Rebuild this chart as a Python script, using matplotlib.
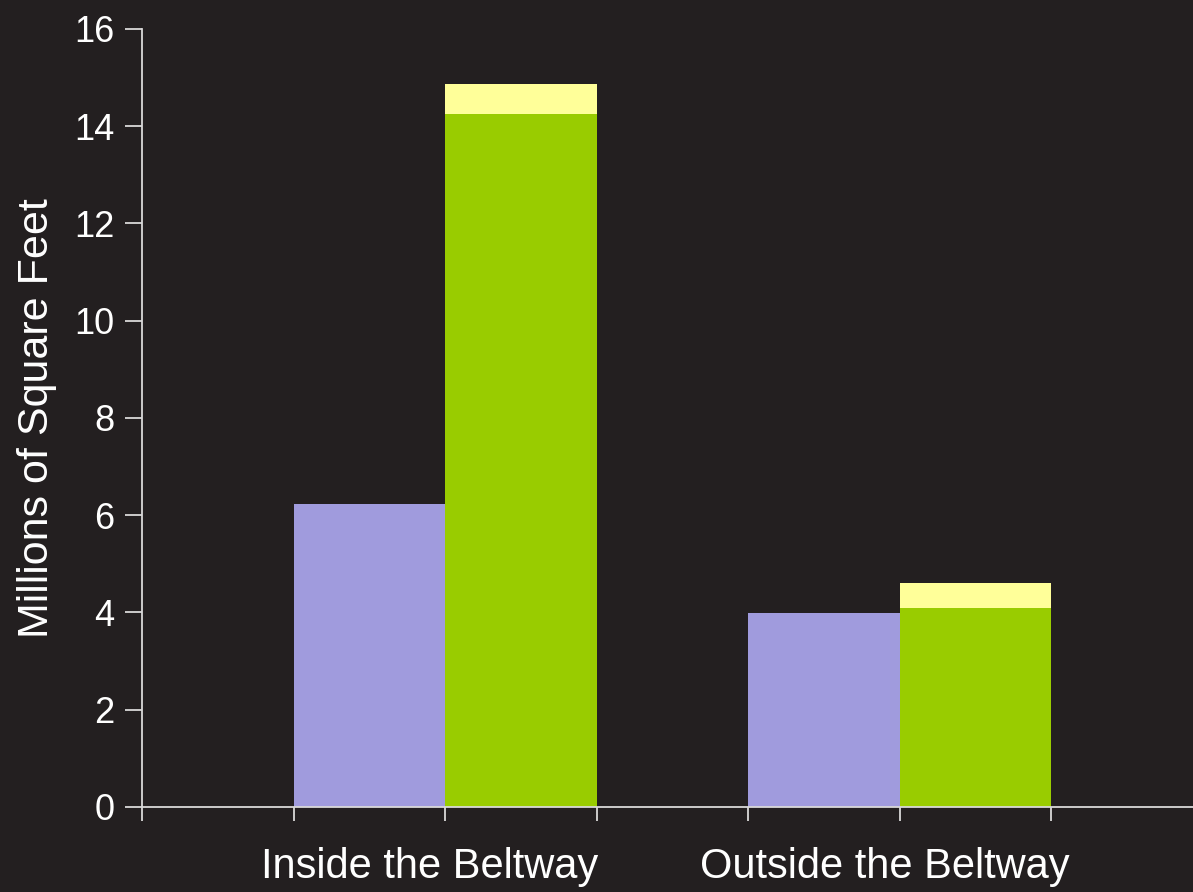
import matplotlib.pyplot as plt
import numpy as np

plt.rcParams['font.family'] = ['Liberation Sans', 'DejaVu Sans']

categories = ['Inside the Beltway', 'Outside the Beltway']
purple_vals = [6.23, 3.99]
green_vals = [14.25, 4.10]
yellow_vals = [0.62, 0.51]

bg = '#231f20'
fg = '#d9d9d9'

fig = plt.figure(figsize=(11.93, 8.92), dpi=100, facecolor=bg)
ax = fig.add_axes([0.119, 0.0953, 0.881, 0.8722], facecolor=bg)

x_purple = np.array([1, 4])
x_green = x_purple + 1
ax.bar(x_purple, purple_vals, width=1, align='edge', color='#a09bdd')
ax.bar(x_green, green_vals, width=1, align='edge', color='#99cc00')
ax.bar(x_green, yellow_vals, width=1, align='edge', bottom=green_vals, color='#ffff99')

ax.set_xlim(0, 6.935)
ax.set_ylim(0, 16)
ax.set_xticks(np.arange(0, 7))
ax.set_xticklabels([])
ax.set_yticks(np.arange(0, 17, 2))

for s in ['top', 'right']:
    ax.spines[s].set_visible(False)
for s in ['left', 'bottom']:
    ax.spines[s].set_color(fg)
    ax.spines[s].set_linewidth(1.3)
ax.tick_params(axis='both', colors=fg, width=1.3, labelsize=26, labelcolor='white')
ax.tick_params(axis='y', length=12, pad=8)
ax.tick_params(axis='x', length=10)

ax.set_ylabel('Millions of Square Feet', color='white', fontsize=31, labelpad=12)

# category labels under the groups
label_x = [1.9, 4.9]
for lx, name in zip(label_x, categories):
    ax.text(lx, -1.23, name, ha='center', va='center', color='white', fontsize=30,
            transform=ax.transData, clip_on=False)

fig.savefig('out.png', dpi=100, facecolor=bg)
